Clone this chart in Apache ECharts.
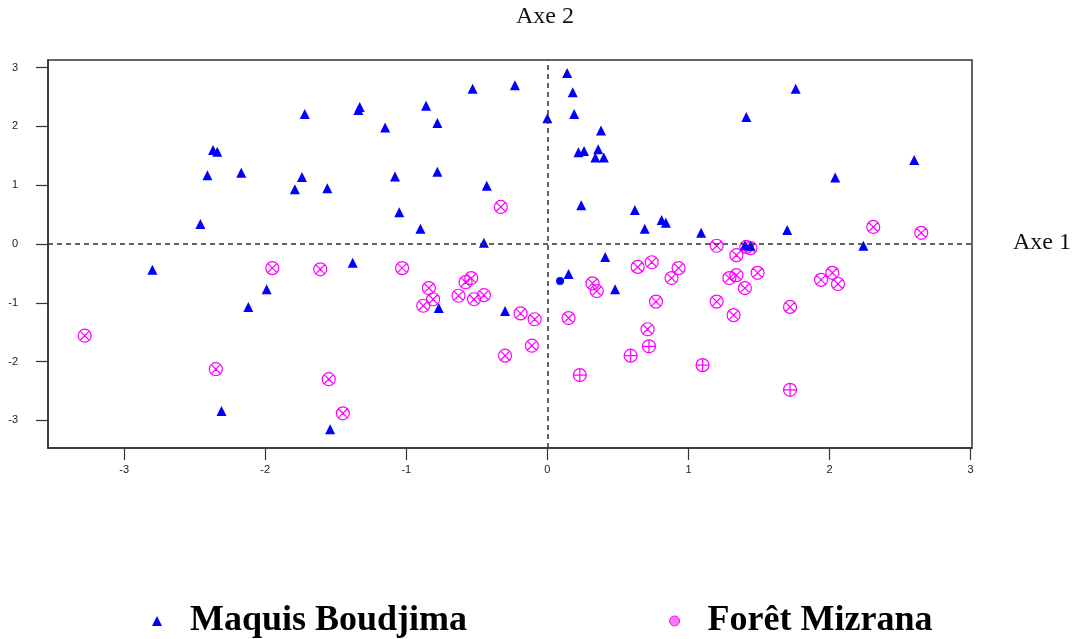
<!DOCTYPE html>
<html>
<head>
<meta charset="utf-8">
<title>Axe 1 / Axe 2</title>
<script src="https://cdn.jsdelivr.net/npm/echarts@6/dist/echarts.min.js"></script>
<style>
  html, body { margin: 0; padding: 0; background: #fff; }
  #chart { width: 1076px; height: 639px; }
</style>
</head>
<body>
<div id="chart"></div>
<script>
// points, [axe 1, axe 2]
const maquisPoints = [
  [-2.80, -0.44], [-2.46, 0.34], [-2.41, 1.17], [-2.37, 1.60], [-2.34, 1.57],
  [-2.17, 1.21], [-2.31, -2.84], [-2.12, -1.07], [-1.99, -0.77], [-1.79, 0.93],
  [-1.74, 1.14], [-1.72, 2.21], [-1.56, 0.95], [-1.54, -3.15], [-1.38, -0.32],
  [-1.33, 2.33], [-1.34, 2.28], [-1.15, 1.98], [-1.08, 1.15], [-1.05, 0.54],
  [-0.90, 0.26], [-0.86, 2.35], [-0.78, 2.06], [-0.78, 1.23], [-0.77, -1.09],
  [-0.43, 0.99], [-0.53, 2.64], [-0.45, 0.02], [-0.30, -1.14], [-0.23, 2.70],
  [0.00, 2.14], [0.14, 2.91], [0.18, 2.58], [0.19, 2.21], [0.22, 1.56],
  [0.26, 1.58], [0.38, 1.93], [0.36, 1.61], [0.34, 1.47], [0.40, 1.47],
  [0.24, 0.66], [0.15, -0.51], [0.41, -0.22], [0.48, -0.77], [0.62, 0.58],
  [0.69, 0.26], [0.81, 0.41], [0.84, 0.36], [1.09, 0.19], [1.41, 2.16],
  [1.76, 2.64], [1.70, 0.24], [2.04, 1.13], [2.60, 1.43], [2.24, -0.03],
  [1.40, -0.02], [1.44, -0.03]
]
// the one round blue mark
const maquisDots = [[0.09, -0.63]]

// pink marks drawn as circle with x
const foretCross = [
  [-3.28, -1.56], [-2.35, -2.13], [-1.95, -0.41], [-1.61, -0.43], [-1.55, -2.30],
  [-1.45, -2.88], [-1.03, -0.41], [-0.84, -0.75], [-0.81, -0.94], [-0.88, -1.05],
  [-0.63, -0.88], [-0.58, -0.65], [-0.54, -0.58], [-0.52, -0.94], [-0.45, -0.87],
  [-0.33, 0.63], [-0.19, -1.18], [-0.09, -1.28], [-0.11, -1.73], [-0.30, -1.90],
  [0.15, -1.26], [0.32, -0.67], [0.35, -0.80], [0.64, -0.39], [0.74, -0.31],
  [0.93, -0.41], [0.88, -0.58], [0.77, -0.98], [0.71, -1.45], [1.20, -0.03],
  [1.34, -0.19], [1.41, -0.05], [1.44, -0.07], [1.29, -0.58], [1.34, -0.53],
  [1.49, -0.49], [1.40, -0.75], [1.20, -0.98], [1.32, -1.21], [1.72, -1.07],
  [1.94, -0.61], [2.02, -0.49], [2.06, -0.68], [2.31, 0.29], [2.65, 0.19]
]
// pink marks drawn as circle with +
const foretPlus = [
  [0.72, -1.74], [0.59, -1.90], [0.23, -2.23], [1.10, -2.06], [1.72, -2.48]
]

const tickValues = [-3, -2, -1, 0, 1, 2, 3]

const crossSym = 'path://M0,-6A6,6,0,1,1,0,6A6,6,0,1,1,0,-6ZM-4.2,-4.2L4.2,4.2M4.2,-4.2L-4.2,4.2'
const plusSym = 'path://M0,-6A6,6,0,1,1,0,6A6,6,0,1,1,0,-6ZM0,-6L0,6M-6,0L6,0'
const triIcon = 'path://M5,0L10,10L0,10Z'
const dotIcon = 'path://M0,-5A5,5,0,1,1,0,5A5,5,0,1,1,0,-5Z'

const chart = echarts.init(document.getElementById('chart'))

const pinkItem = { color: 'rgba(0,0,0,0)', borderColor: '#ff00ff', borderWidth: 1.2, opacity: 1 }

const foretData = foretCross.map(p => ({ value: p, symbol: crossSym }))
  .concat(foretPlus.map(p => ({ value: p, symbol: plusSym })))

const maquisData = maquisPoints.map(p => ({ value: p }))
  .concat(maquisDots.map(p => ({ value: p, symbol: 'circle', symbolSize: 8 })))

const axisCommon = {
  type: 'value',
  splitLine: { show: false },
  axisLine: { show: true, onZero: false, lineStyle: { color: '#333', width: 1.5 } },
  axisTick: { show: true, length: 12, customValues: tickValues, lineStyle: { color: '#333', width: 1.2 } },
  axisLabel: { customValues: tickValues, color: '#222', fontSize: 11, fontFamily: 'Liberation Sans' }
}

const option = {
  animation: false,
  backgroundColor: '#fff',
  title: [
    { text: 'Axe 2', left: 516, top: 5, padding: 0,
      textStyle: { fontFamily: 'Liberation Serif', fontWeight: 'normal', fontSize: 24, color: '#111' } },
    { text: 'Axe 1', left: 1013, top: 231, padding: 0,
      textStyle: { fontFamily: 'Liberation Serif', fontWeight: 'normal', fontSize: 24, color: '#111' } }
  ],
  grid: {
    left: 48, right: 104, top: 60, bottom: 191,
    show: true, borderColor: '#333', borderWidth: 1.5
  },
  xAxis: Object.assign({}, axisCommon, {
    min: -3.54, max: 3.01,
    axisLabel: Object.assign({}, axisCommon.axisLabel, { margin: 16 })
  }),
  yAxis: Object.assign({}, axisCommon, {
    min: -3.47, max: 3.13,
    axisLabel: Object.assign({}, axisCommon.axisLabel, { margin: 30 })
  }),
  legend: {
    left: 147, top: 598,
    itemWidth: 56, itemHeight: 10, itemGap: 202,
    symbolKeepAspect: true,
    textStyle: { fontFamily: 'Liberation Serif', fontWeight: 'bold', fontSize: 36, color: '#000', lineHeight: 36 },
    data: [
      { name: 'Maquis Boudjima', icon: triIcon, itemStyle: { color: '#0000ff', opacity: 1 } },
      { name: 'Forêt Mizrana', icon: dotIcon, itemStyle: { color: '#ff77ff', borderColor: '#ff00ff', borderWidth: 1, opacity: 1 } }
    ]
  },
  series: [
    {
      name: 'Forêt Mizrana',
      type: 'scatter',
      symbolSize: 13,
      itemStyle: pinkItem,
      data: foretData,
      markLine: {
        silent: true,
        symbol: ['none', 'none'],
        label: { show: false },
        lineStyle: { type: [5, 4], color: '#333', width: 1.5 },
        data: [{ xAxis: 0 }, { yAxis: 0 }]
      }
    },
    {
      name: 'Maquis Boudjima',
      type: 'scatter',
      symbol: 'triangle',
      symbolSize: [10, 10],
      itemStyle: { color: '#0000ff', opacity: 1 },
      data: maquisData
    }
  ]
}

chart.setOption(option)
</script>
</body>
</html>
